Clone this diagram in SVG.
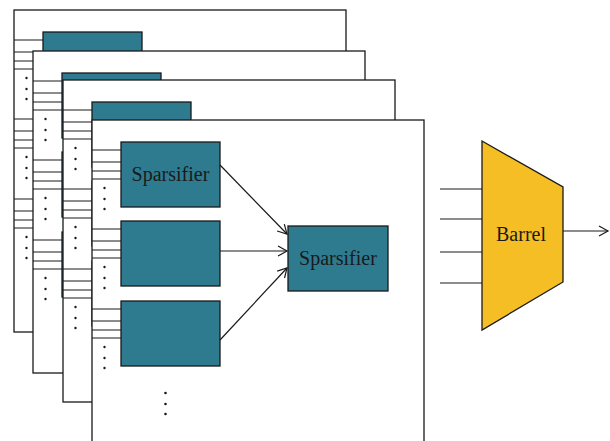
<svg xmlns="http://www.w3.org/2000/svg" xmlns:xlink="http://www.w3.org/1999/xlink" width="610" height="441" viewBox="0 0 610 441">
<style>
.page{fill:#fff;stroke:#1a1a1a;stroke-width:1.3}
.blk{fill:#2e7a8f;stroke:#1a1a1a;stroke-width:1.3}
.ln{stroke:#1a1a1a;stroke-width:1.2;fill:none}
.dot{fill:#1a1a1a}
.lbl{font-family:"Liberation Serif","Times New Roman",serif;font-size:20px;fill:#1a1a1a;text-anchor:middle}
.bar{fill:#f4be24;stroke:#1a1a1a;stroke-width:1.3}
</style>
<defs>
<marker id="arr" markerUnits="userSpaceOnUse" markerWidth="12" markerHeight="12" refX="10" refY="6" orient="auto" viewBox="0 0 12 12">
<path d="M1,1 L10,6 L1,11" fill="none" stroke="#1a1a1a" stroke-width="1.2"/>
</marker>
<g id="inputs">
<path class="ln" d="M0,8H29M0,20H29M0,29H29M0,37H29"/>
<circle class="dot" cx="12.5" cy="46" r="1.2"/>
<circle class="dot" cx="12.5" cy="57" r="1.2"/>
<circle class="dot" cx="12.5" cy="67" r="1.2"/>
<rect class="blk" x="29" y="0" width="99" height="65"/>
</g>
<g id="pagebase">
<rect class="page" x="0" y="0" width="332" height="322"/>
<use xlink:href="#inputs" x="0" y="22"/>
<use xlink:href="#inputs" x="0" y="101"/>
<use xlink:href="#inputs" x="0" y="181"/>
</g>
</defs>
<g id="page1"><use xlink:href="#pagebase" x="14" y="10"/></g>
<g id="page2"><use xlink:href="#pagebase" x="33" y="51"/></g>
<g id="page3"><use xlink:href="#pagebase" x="63" y="80"/></g>
<g id="page4">
<use xlink:href="#pagebase" x="92" y="120"/>
<g id="sparsifier1"><text class="lbl" x="170.5" y="181">Sparsifier</text></g>
<g id="sparsifier-top">
<rect class="blk" x="288" y="226" width="100" height="65"/>
<text class="lbl" x="338" y="265">Sparsifier</text>
</g>
<circle class="dot" cx="165.5" cy="393" r="1.3"/>
<circle class="dot" cx="165.5" cy="404" r="1.3"/>
<circle class="dot" cx="165.5" cy="414" r="1.3"/>
</g>
<g id="barrel">
<polygon class="bar" points="482,141 563,187 563,282 482,330"/>
<text class="lbl" x="521" y="241">Barrel</text>
</g>
<g id="connectors">
<path class="ln" d="M220,165L287,234" marker-end="url(#arr)"/>
<path class="ln" d="M220,251L287,251" marker-end="url(#arr)"/>
<path class="ln" d="M220,340L287,268" marker-end="url(#arr)"/>
<path class="ln" d="M440,189H482M440,219H482M440,252H482M440,283H482"/>
<path class="ln" d="M563,231H608" marker-end="url(#arr)"/>
</g>
</svg>
